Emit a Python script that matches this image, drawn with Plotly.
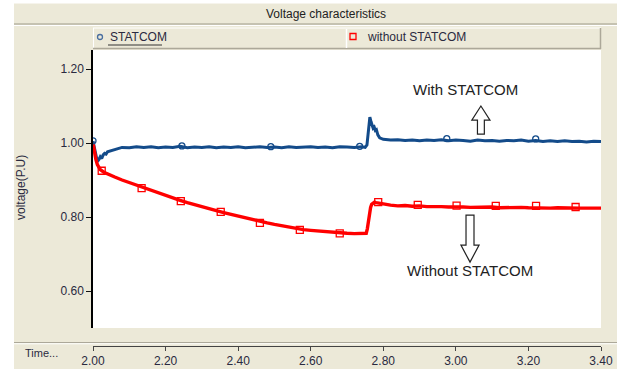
import plotly.graph_objects as go

# ---------------- data ----------------
t_statcom = [2.000, 2.004, 2.008, 2.012, 2.016, 2.020, 2.024, 2.028, 2.032, 2.036, 2.040,
             2.050, 2.060, 2.070, 2.080, 2.10, 2.12, 2.14, 2.16, 2.18, 2.20, 2.22, 2.24,
             2.26, 2.28, 2.30, 2.32, 2.34, 2.36, 2.38, 2.40, 2.42, 2.44, 2.46, 2.48, 2.50,
             2.52, 2.54, 2.56, 2.58, 2.60, 2.62, 2.64, 2.66, 2.68, 2.70, 2.72, 2.74,
             2.750, 2.755, 2.758, 2.761, 2.763, 2.766, 2.769, 2.772, 2.775, 2.778, 2.781,
             2.785, 2.790, 2.80, 2.82, 2.84, 2.86, 2.88, 2.90, 2.92, 2.94, 2.96, 2.98,
             3.00, 3.02, 3.04, 3.06, 3.08, 3.10, 3.12, 3.14, 3.16, 3.18, 3.20, 3.22,
             3.24, 3.26, 3.28, 3.30, 3.32, 3.34, 3.36, 3.38, 3.40]
v_statcom = [1.005, 0.985, 0.962, 0.950, 0.955, 0.963, 0.958, 0.968, 0.972, 0.970, 0.976,
             0.979, 0.983, 0.986, 0.988, 0.987, 0.990, 0.988, 0.990, 0.987, 0.989, 0.988, 0.991,
             0.987, 0.989, 0.988, 0.990, 0.987, 0.989, 0.988, 0.990, 0.987, 0.989, 0.990, 0.988, 0.989,
             0.987, 0.990, 0.988, 0.989, 0.990, 0.988, 0.989, 0.987, 0.990, 0.989, 0.988, 0.990,
             0.988, 0.995, 1.030, 1.062, 1.070, 1.058, 1.048, 1.040, 1.043, 1.034, 1.036,
             1.022, 1.014, 1.010, 1.008, 1.009, 1.007, 1.008, 1.006, 1.008, 1.007, 1.009, 1.006,
             1.008, 1.007, 1.005, 1.008, 1.006, 1.007, 1.005, 1.007, 1.006, 1.008, 1.005, 1.007,
             1.004, 1.006, 1.004, 1.006, 1.004, 1.005, 1.003, 1.005, 1.004]

t_without = [2.000, 2.004, 2.008, 2.012, 2.016, 2.020, 2.030, 2.040, 2.050, 2.060, 2.080,
             2.10, 2.12, 2.14, 2.16, 2.18, 2.20, 2.22, 2.24, 2.26, 2.28, 2.30, 2.32, 2.34,
             2.36, 2.38, 2.40, 2.42, 2.44, 2.46, 2.48, 2.50, 2.52, 2.54, 2.56, 2.58, 2.60,
             2.62, 2.64, 2.66, 2.68, 2.70, 2.72, 2.74, 2.750, 2.753, 2.756, 2.759, 2.762,
             2.765, 2.768, 2.772, 2.776, 2.780, 2.785, 2.790, 2.80, 2.82, 2.84, 2.86, 2.88,
             2.90, 2.92, 2.94, 2.96, 2.98, 3.00, 3.02, 3.04, 3.06, 3.08, 3.10, 3.12, 3.14,
             3.16, 3.18, 3.20, 3.22, 3.24, 3.26, 3.28, 3.30, 3.32, 3.34, 3.36, 3.38, 3.40]
v_without = [1.000, 0.975, 0.955, 0.942, 0.934, 0.928, 0.921, 0.916, 0.912, 0.908, 0.900,
             0.893, 0.885, 0.878, 0.871, 0.865, 0.858, 0.851, 0.845, 0.839, 0.833, 0.828, 0.822, 0.817,
             0.812, 0.807, 0.802, 0.797, 0.793, 0.788, 0.784, 0.780, 0.776, 0.772, 0.769, 0.766, 0.764,
             0.762, 0.760, 0.758, 0.757, 0.756, 0.755, 0.755, 0.754, 0.756, 0.768, 0.790, 0.812,
             0.826, 0.834, 0.838, 0.840, 0.839, 0.838, 0.836, 0.834, 0.832, 0.830, 0.831, 0.829,
             0.830, 0.828, 0.829, 0.828, 0.827, 0.828, 0.827, 0.826, 0.827, 0.826, 0.827, 0.825, 0.826,
             0.825, 0.826, 0.825, 0.824, 0.825, 0.824, 0.825, 0.824, 0.825, 0.824, 0.824, 0.825, 0.824]

# sparse symbol positions drawn on each curve
t_statcom_marks = [2.000, 2.245, 2.490, 2.735, 2.975, 3.220]
v_statcom_marks = [1.006, 0.992, 0.990, 0.991, 1.012, 1.011]
t_without_marks = [2.024, 2.134, 2.242, 2.352, 2.460, 2.570, 2.680, 2.786, 2.895,
                   3.002, 3.110, 3.221, 3.330]
v_without_marks = [0.925, 0.878, 0.843, 0.814, 0.784, 0.765, 0.756, 0.840, 0.833,
                   0.831, 0.830, 0.830, 0.827]

y_ticks = [0.60, 0.80, 1.00, 1.20]
y_tick_labels = ["0.60", "0.80", "1.00", "1.20"]
x_ticks = [2.00, 2.20, 2.40, 2.60, 2.80, 3.00, 3.20, 3.40]
x_tick_labels = ["2.00", "2.20", "2.40", "2.60", "2.80", "3.00", "3.20", "3.40"]

series_names = ["STATCOM", "without STATCOM"]

# ---------------- layout helpers ----------------
W, H = 617, 369
ML, MR, MT, MB = 93, 16, 50, 23
PW, PH = W - ML - MR, H - MT - MB


def px(x):
    return (x - ML) / PW


def py(y):
    return (H - MB - y) / PH


BLUE = "#134b8a"
RED = "#ff0000"
BEIGE = "#ece9d8"
FONT = "Liberation Sans"
TXT = "#2a2a40"

fig = go.Figure()
fig.add_trace(go.Scatter(x=t_statcom, y=v_statcom, mode="lines",
                         line=dict(color=BLUE, width=3), name=series_names[0]))
fig.add_trace(go.Scatter(x=t_without, y=v_without, mode="lines",
                         line=dict(color=RED, width=3.4), name=series_names[1]))
fig.add_trace(go.Scatter(x=t_statcom_marks, y=v_statcom_marks, mode="markers",
                         marker=dict(symbol="circle-open", size=6, color=BLUE,
                                     line=dict(width=1.3, color=BLUE))))
fig.add_trace(go.Scatter(x=t_without_marks, y=v_without_marks, mode="markers",
                         marker=dict(symbol="square-open", size=7, color=RED,
                                     line=dict(width=1.3, color="#ff5050"))))

ydom0 = py(328)

shapes = []
# white L border of the image
shapes.append(dict(type="rect", xref="paper", yref="paper", x0=px(-5), x1=px(14),
                   y0=py(375), y1=py(-5), fillcolor="white", line=dict(width=0), layer="below"))
shapes.append(dict(type="rect", xref="paper", yref="paper", x0=px(-5), x1=px(622),
                   y0=py(3.5), y1=py(-5), fillcolor="white", line=dict(width=0), layer="below"))
# title separator
shapes.append(dict(type="line", xref="paper", yref="paper", x0=px(14), x1=px(617),
                   y0=py(24), y1=py(24), line=dict(color="#b9b5a5", width=1.5)))
shapes.append(dict(type="line", xref="paper", yref="paper", x0=px(14), x1=px(617),
                   y0=py(25.5), y1=py(25.5), line=dict(color="#ffffff", width=1)))
# legend bar (3d look)
shapes.append(dict(type="rect", xref="paper", yref="paper", x0=px(93), x1=px(601),
                   y0=py(49), y1=py(27.5), fillcolor=BEIGE, line=dict(width=0)))
shapes.append(dict(type="line", xref="paper", yref="paper", x0=px(93), x1=px(601),
                   y0=py(28), y1=py(28), line=dict(color="#ffffff", width=1)))
shapes.append(dict(type="line", xref="paper", yref="paper", x0=px(93.5), x1=px(93.5),
                   y0=py(28), y1=py(49), line=dict(color="#ffffff", width=1)))
shapes.append(dict(type="line", xref="paper", yref="paper", x0=px(93), x1=px(601),
                   y0=py(48.5), y1=py(48.5), line=dict(color="#aca899", width=1.5)))
shapes.append(dict(type="line", xref="paper", yref="paper", x0=px(600.5), x1=px(600.5),
                   y0=py(28), y1=py(49), line=dict(color="#aca899", width=1.5)))
shapes.append(dict(type="line", xref="paper", yref="paper", x0=px(346.5), x1=px(346.5),
                   y0=py(29), y1=py(48), line=dict(color="#ffffff", width=1.5)))
# legend symbols
shapes.append(dict(type="circle", xref="paper", yref="paper", x0=px(97.5), x1=px(102.5),
                   y0=py(39.5), y1=py(34.5), line=dict(color="#4a6fa0", width=1.3)))
shapes.append(dict(type="rect", xref="paper", yref="paper", x0=px(350), x1=px(356),
                   y0=py(39.5), y1=py(33.5), line=dict(color=RED, width=1.3)))
# underline of active legend entry
shapes.append(dict(type="line", xref="paper", yref="paper", x0=px(108), x1=px(162),
                   y0=py(45), y1=py(45), line=dict(color="#333333", width=1)))
# bottom separator
shapes.append(dict(type="line", xref="paper", yref="paper", x0=px(14), x1=px(617),
                   y0=py(342.5), y1=py(342.5), line=dict(color="#aca899", width=1.2)))
shapes.append(dict(type="line", xref="paper", yref="paper", x0=px(14), x1=px(617),
                   y0=py(343.8), y1=py(343.8), line=dict(color="#ffffff", width=1)))

# outline arrows (data coordinates)
up_x, up_tip, up_head, up_tail, up_hw, up_sw = 3.069, 1.100, 1.062, 1.024, 0.025, 0.0095
shapes.append(dict(type="path", xref="x", yref="y",
                   path=(f"M {up_x} {up_tip} L {up_x+up_hw} {up_head} L {up_x+up_sw} {up_head} "
                         f"L {up_x+up_sw} {up_tail} L {up_x-up_sw} {up_tail} L {up_x-up_sw} {up_head} "
                         f"L {up_x-up_hw} {up_head} Z"),
                   line=dict(color="#222222", width=1.2), fillcolor="white"))
dn_x, dn_tip, dn_head, dn_tail, dn_hw, dn_sw = 3.039, 0.678, 0.724, 0.805, 0.025, 0.011
shapes.append(dict(type="path", xref="x", yref="y",
                   path=(f"M {dn_x} {dn_tip} L {dn_x+dn_hw} {dn_head} L {dn_x+dn_sw} {dn_head} "
                         f"L {dn_x+dn_sw} {dn_tail} L {dn_x-dn_sw} {dn_tail} L {dn_x-dn_sw} {dn_head} "
                         f"L {dn_x-dn_hw} {dn_head} Z"),
                   line=dict(color="#222222", width=1.2), fillcolor="white"))

annotations = [
    dict(text="Voltage characteristics", xref="paper", yref="paper", x=px(326), y=py(14),
         showarrow=False, font=dict(family=FONT, size=12, color="#222222"),
         xanchor="center", yanchor="middle"),
    dict(text=series_names[0], xref="paper", yref="paper", x=px(108), y=py(37.5),
         showarrow=False, font=dict(family=FONT, size=12, color=TXT),
         xanchor="left", yanchor="middle"),
    dict(text=series_names[1], xref="paper", yref="paper", x=px(365), y=py(37.5),
         showarrow=False, font=dict(family=FONT, size=12, color=TXT),
         xanchor="left", yanchor="middle"),
    dict(text="Time...", xref="paper", yref="paper", x=px(23), y=py(353),
         showarrow=False, font=dict(family=FONT, size=11, color=TXT),
         xanchor="left", yanchor="middle"),
    dict(text="voltage(P.U)", xref="paper", yref="paper", x=px(21), y=py(188),
         showarrow=False, textangle=-90, font=dict(family=FONT, size=12, color=TXT),
         xanchor="center", yanchor="middle"),
    dict(text="With STATCOM", x=2.0 + (465 - 93) / PW * 1.4, y=1.0 + (143 - 89) / 370.0,
         xref="x", yref="y", showarrow=False,
         font=dict(family=FONT, size=15, color="#222222"), xanchor="center", yanchor="middle"),
    dict(text="Without STATCOM", x=2.0 + (470 - 93) / PW * 1.4, y=1.0 - (270 - 143) / 370.0,
         xref="x", yref="y", showarrow=False,
         font=dict(family=FONT, size=15, color="#222222"), xanchor="center", yanchor="middle"),
]

fig.update_layout(
    width=W, height=H,
    margin=dict(l=ML, r=MR, t=MT, b=MB, pad=0, autoexpand=False),
    paper_bgcolor=BEIGE, plot_bgcolor="white",
    showlegend=False,
    shapes=shapes, annotations=annotations,
    xaxis=dict(range=[2.0, 3.4], domain=[0, 1], anchor="free", position=0, automargin=False,
               tickvals=x_ticks, ticktext=x_tick_labels, ticks="outside", ticklen=4,
               tickcolor="#444444", showline=True, linecolor="#444444", linewidth=1,
               showgrid=False, zeroline=False,
               tickfont=dict(family=FONT, size=12, color=TXT)),
    yaxis=dict(range=[0.5, 1.0 + (143 - 50) / 370.0], domain=[ydom0, 1], automargin=False,
               tickvals=y_ticks, ticktext=y_tick_labels, ticks="outside", ticklen=5,
               tickcolor="#111111", showline=True, linecolor="#000000", linewidth=1.5,
               showgrid=False, zeroline=False,
               tickfont=dict(family=FONT, size=12, color=TXT)),
)

fig.write_html("out.html", config={"displayModeBar": False},
               post_script="document.body.style.margin='0';document.body.style.overflow='hidden';")
